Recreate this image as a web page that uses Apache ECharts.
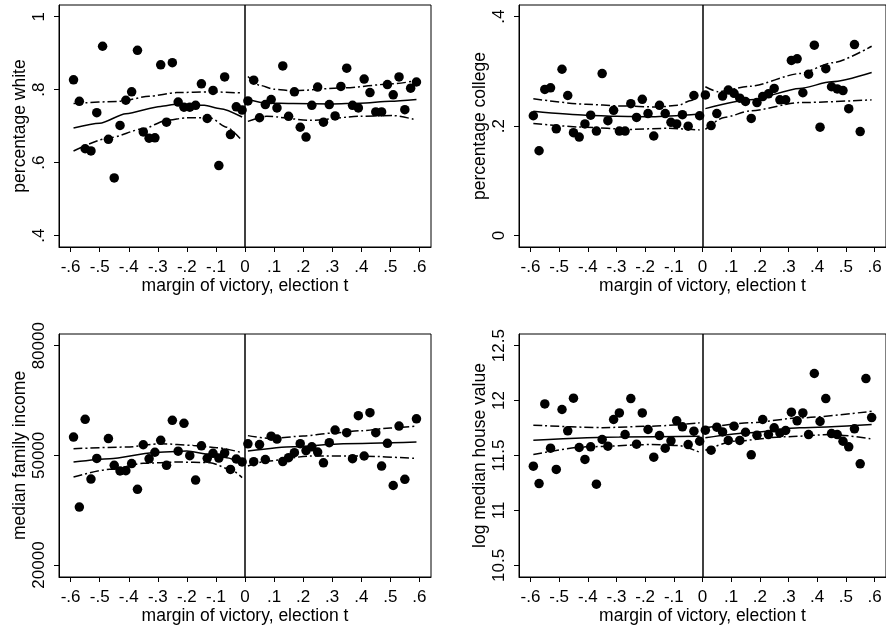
<!DOCTYPE html>
<html><head><meta charset="utf-8">
<script src="https://cdn.jsdelivr.net/npm/echarts@6/dist/echarts.min.js"></script>
<style>html,body{margin:0;padding:0;background:#fff}#c{width:886px;height:631px}</style>
</head><body><div id="c"></div>
<script>
// ---------- tick labels ----------
const xTicks = [-0.6,-0.5,-0.4,-0.3,-0.2,-0.1,0,0.1,0.2,0.3,0.4,0.5,0.6];
const whiteTicks = [0.4,0.6,0.8,1];
const collegeTicks = [0,0.2,0.4];
const incomeTicks = [20000,50000,80000];
const houseTicks = [10.5,11,11.5,12,12.5];

// ---------- bin centres ----------
const binsLeft = [-0.59,-0.57,-0.55,-0.53,-0.51,-0.49,-0.47,-0.45,-0.43,-0.41,-0.39,-0.37,-0.35,-0.33,-0.31,-0.29,-0.27,-0.25,-0.23,-0.21,-0.19,-0.17,-0.15,-0.13,-0.11,-0.09,-0.07,-0.05,-0.03,-0.01];
const binsRight = [0.01,0.03,0.05,0.07,0.09,0.11,0.13,0.15,0.17,0.19,0.21,0.23,0.25,0.27,0.29,0.31,0.33,0.35,0.37,0.39,0.41,0.43,0.45,0.47,0.49,0.51,0.53,0.55,0.57,0.59];
const collegeXRight = [0.01,0.03,0.05,0.07,0.09,0.11,0.13,0.15,0.17,0.19,0.21,0.23,0.25,0.27,0.29,0.31,0.33,0.35,0.37,0.39,0.41,0.43,0.45,0.47,0.49,0.51,0.53,0.55];
const incomeXLeft = [-0.59,-0.57,-0.55,-0.53,-0.51,-0.47,-0.45,-0.43,-0.41,-0.39,-0.37,-0.35,-0.33,-0.31,-0.29,-0.27,-0.25,-0.23,-0.21,-0.19,-0.17,-0.15,-0.13,-0.11,-0.09,-0.07,-0.05,-0.03,-0.01];
const incomeXRight = [0.01,0.03,0.05,0.07,0.09,0.11,0.13,0.15,0.17,0.19,0.21,0.23,0.25,0.27,0.29,0.31,0.35,0.37,0.39,0.41,0.43,0.45,0.47,0.49,0.51,0.53,0.55,0.59];

// ---------- percentage white ----------
const whiteLeft = [0.827,0.768,0.638,0.632,0.737,0.919,0.664,0.558,0.702,0.771,0.794,0.908,0.684,0.667,0.668,0.868,0.711,0.874,0.766,0.752,0.752,0.757,0.816,0.721,0.798,0.592,0.835,0.677,0.753,0.744];
const whiteRight = [0.769,0.826,0.723,0.759,0.773,0.750,0.865,0.727,0.794,0.697,0.670,0.757,0.807,0.711,0.759,0.728,0.809,0.859,0.757,0.750,0.829,0.792,0.739,0.739,0.814,0.786,0.835,0.745,0.804,0.821];
const whiteFitLX = [-0.59,-0.5,-0.41,-0.29,-0.235,-0.14,-0.085,-0.01];
const whiteFitL  = [0.695,0.708,0.734,0.754,0.760,0.757,0.748,0.725];
const whiteHiLX = [-0.59,-0.43,-0.33,-0.235,-0.12,-0.01];
const whiteHiL  = [0.762,0.768,0.782,0.792,0.794,0.791];
const whiteLoLX = [-0.59,-0.465,-0.35,-0.27,-0.2,-0.12,-0.063,-0.01];
const whiteLoL  = [0.632,0.668,0.693,0.716,0.723,0.723,0.697,0.660];
const whiteFitRX = [0.01,0.075,0.166,0.3,0.396,0.5,0.59];
const whiteFitR  = [0.773,0.763,0.762,0.761,0.763,0.768,0.773];
const whiteHiRX = [0.01,0.05,0.1,0.166,0.338,0.51,0.59];
const whiteHiR  = [0.836,0.812,0.801,0.797,0.805,0.816,0.825];
const whiteLoRX = [0.01,0.075,0.224,0.396,0.51,0.59];
const whiteLoR  = [0.713,0.727,0.716,0.727,0.729,0.717];

// ---------- percentage college ----------
const collegeLeft = [0.219,0.155,0.267,0.270,0.195,0.304,0.256,0.188,0.180,0.204,0.220,0.191,0.296,0.210,0.229,0.191,0.191,0.241,0.216,0.249,0.223,0.182,0.238,0.223,0.207,0.204,0.221,0.200,0.256,0.219];
const collegeRight = [0.257,0.201,0.223,0.255,0.266,0.260,0.251,0.245,0.214,0.243,0.254,0.259,0.269,0.248,0.248,0.320,0.323,0.261,0.295,0.348,0.198,0.305,0.272,0.268,0.265,0.232,0.349,0.190];
const collegeFitLX = [-0.59,-0.406,-0.3,-0.177,-0.01];
const collegeFitL  = [0.227,0.220,0.218,0.217,0.222];
const collegeHiLX = [-0.59,-0.406,-0.29,-0.154,-0.085,-0.04,-0.01];
const collegeHiL  = [0.250,0.240,0.237,0.235,0.238,0.247,0.258];
const collegeLoLX = [-0.59,-0.406,-0.257,-0.12,-0.01];
const collegeLoL  = [0.205,0.198,0.194,0.196,0.193];
const collegeFitRX = [0.01,0.167,0.339,0.45,0.59];
const collegeFitR  = [0.232,0.248,0.269,0.281,0.298];
const collegeHiRX = [0.01,0.053,0.167,0.339,0.454,0.59];
const collegeHiR  = [0.272,0.263,0.273,0.296,0.316,0.346];
const collegeLoRX = [0.01,0.076,0.167,0.339,0.59];
const collegeLoR  = [0.194,0.216,0.228,0.243,0.248];

// ---------- median family income ----------
const incomeLeft = [55000,35860,59850,43500,49150,54600,47270,45750,45800,47750,40700,52900,49050,50850,54100,47270,59580,51150,58750,49900,43240,52600,49180,50550,49270,50650,46150,49000,48200];
const incomeRight = [53150,48270,52950,48860,55240,54450,48300,49360,50730,53200,51320,52320,50900,47950,53470,56920,56210,49100,60850,49820,61680,56210,47070,53280,41750,58010,43440,60000];
const incomeFitLX = [-0.59,-0.465,-0.316,-0.2,-0.12,-0.063,-0.01];
const incomeFitL  = [48170,49100,50730,51180,50270,49360,47700];
const incomeHiLX = [-0.59,-0.407,-0.29,-0.178,-0.097,-0.01];
const incomeHiL  = [51830,52270,53200,52730,52100,50730];
const incomeLoLX = [-0.59,-0.465,-0.35,-0.235,-0.12,-0.05,-0.01];
const incomeLoL  = [44070,46170,47810,48170,48000,46170,43900];
const incomeFitRX = [0.01,0.166,0.338,0.59];
const incomeFitR  = [51180,52370,53200,53640];
const incomeHiRX = [0.01,0.09,0.2,0.3,0.4,0.5,0.59];
const incomeHiR  = [55400,54600,55300,56100,56750,57500,58010];
const incomeLoRX = [0.01,0.075,0.224,0.396,0.59];
const incomeLoR  = [47080,48440,49810,49810,49150];

// ---------- log median house value ----------
const houseLeft = [11.403,11.245,11.970,11.567,11.373,11.919,11.725,12.022,11.573,11.464,11.579,11.239,11.646,11.585,11.828,11.888,11.691,12.019,11.603,11.888,11.737,11.485,11.682,11.567,11.634,11.816,11.761,11.600,11.722,11.630];
const houseRight = [11.731,11.549,11.758,11.715,11.637,11.767,11.637,11.712,11.506,11.685,11.828,11.691,11.752,11.706,11.728,11.895,11.816,11.888,11.691,12.247,11.810,12.019,11.700,11.691,11.630,11.579,11.743,11.424,12.201,11.846];
const houseFitLX = [-0.59,-0.29,-0.01];
const houseFitL  = [11.639,11.668,11.676];
const houseHiLX = [-0.59,-0.349,-0.177,-0.01];
const houseHiL  = [11.776,11.754,11.767,11.798];
const houseLoLX = [-0.59,-0.406,-0.177,-0.085,-0.01];
const houseLoL  = [11.509,11.579,11.600,11.591,11.530];
const houseFitRX = [0.01,0.167,0.339,0.59];
const houseFitR  = [11.661,11.707,11.752,11.782];
const houseHiRX = [0.01,0.167,0.339,0.59];
const houseHiR  = [11.752,11.798,11.843,11.903];
const houseLoRX = [0.01,0.11,0.282,0.454,0.59];
const houseLoR  = [11.548,11.630,11.670,11.691,11.652];

// ---------- build ----------
const FONT = 'Liberation Sans, Arial, Helvetica, sans-serif';
const zip = (xs, ys) => xs.map((x, i) => [x, ys[i]]);
const fmt = v => { const s = String(Math.round(v * 1000) / 1000); return s.replace(/^(-?)0\./, '$1.'); };
const DASHDOT = [9, 3, 2, 3];

const panels = [
  {grid:{left:59, top:5, width:372, height:242}, yName:'percentage white', ymin:0.3687, ymax:1.0321, yTicks:whiteTicks,
   xl:binsLeft, yl:whiteLeft, xr:binsRight, yr:whiteRight,
   lines:[[whiteFitLX,whiteFitL,'solid'],[whiteHiLX,whiteHiL,DASHDOT],[whiteLoLX,whiteLoL,DASHDOT],
          [whiteFitRX,whiteFitR,'solid'],[whiteHiRX,whiteHiR,DASHDOT],[whiteLoRX,whiteLoR,DASHDOT]]},
  {grid:{left:519, top:5, width:372, height:242}, yName:'percentage college', ymin:-0.0209, ymax:0.4214, yTicks:collegeTicks,
   xl:binsLeft, yl:collegeLeft, xr:collegeXRight, yr:collegeRight,
   lines:[[collegeFitLX,collegeFitL,'solid'],[collegeHiLX,collegeHiL,DASHDOT],[collegeLoLX,collegeLoL,DASHDOT],
          [collegeFitRX,collegeFitR,'solid'],[collegeHiRX,collegeHiR,DASHDOT],[collegeLoRX,collegeLoR,DASHDOT]]},
  {grid:{left:59, top:334, width:372, height:243}, yName:'median family income', ymin:16720, ymax:83200, yTicks:incomeTicks,
   xl:incomeXLeft, yl:incomeLeft, xr:incomeXRight, yr:incomeRight,
   lines:[[incomeFitLX,incomeFitL,'solid'],[incomeHiLX,incomeHiL,DASHDOT],[incomeLoLX,incomeLoL,DASHDOT],
          [incomeFitRX,incomeFitR,'solid'],[incomeHiRX,incomeHiR,DASHDOT],[incomeLoRX,incomeLoR,DASHDOT]]},
  {grid:{left:519, top:334, width:372, height:243}, yName:'log median house value', ymin:10.394, ymax:12.6065, yTicks:houseTicks,
   xl:binsLeft, yl:houseLeft, xr:binsRight, yr:houseRight,
   lines:[[houseFitLX,houseFitL,'solid'],[houseHiLX,houseHiL,DASHDOT],[houseLoLX,houseLoL,DASHDOT],
          [houseFitRX,houseFitR,'solid'],[houseHiRX,houseHiR,DASHDOT],[houseLoRX,houseLoR,DASHDOT]]}
];

const option = {animation:false, backgroundColor:'#fff', grid:[], xAxis:[], yAxis:[], series:[]};
const axisCommon = {
  axisLine:{show:true, onZero:false, lineStyle:{color:'#000', width:1}},
  splitLine:{show:false}
};
panels.forEach((p, i) => {
  option.grid.push(Object.assign({show:true, borderColor:'#000', borderWidth:1, backgroundColor:'#fff'}, p.grid));
  option.xAxis.push(Object.assign({}, axisCommon, {
    type:'value', gridIndex:i, min:-0.64, max:0.64,
    name:'margin of victory, election t', nameLocation:'middle', nameGap:29,
    nameTextStyle:{color:'#000', fontSize:17.5, fontFamily:FONT},
    axisTick:{show:true, length:5, customValues:xTicks, lineStyle:{color:'#000', width:1}},
    axisLabel:{customValues:xTicks, formatter:fmt, margin:12, color:'#000', fontSize:17, fontFamily:FONT}
  }));
  option.yAxis.push(Object.assign({}, axisCommon, {
    type:'value', gridIndex:i, min:p.ymin, max:p.ymax,
    name:p.yName, nameLocation:'middle', nameGap:30, nameRotate:90,
    nameTextStyle:{color:'#000', fontSize:17.5, fontFamily:FONT},
    axisTick:{show:true, length:5, customValues:p.yTicks, lineStyle:{color:'#000', width:1}},
    axisLabel:{customValues:p.yTicks, formatter:fmt, rotate:90, margin:11, color:'#000', fontSize:17, fontFamily:FONT}
  }));
  option.series.push({
    type:'scatter', xAxisIndex:i, yAxisIndex:i, symbol:'circle', symbolSize:9.5,
    itemStyle:{color:'#000', opacity:1}, data: zip(p.xl, p.yl).concat(zip(p.xr, p.yr)), silent:true, z:3,
    markLine:{silent:true, symbol:['none','none'], label:{show:false},
      lineStyle:{color:'#000', width:1.5, type:'solid', opacity:1}, data:[{xAxis:0}]}
  });
  p.lines.forEach(l => {
    option.series.push({
      type:'line', xAxisIndex:i, yAxisIndex:i, data:zip(l[0], l[1]), showSymbol:false, symbol:'none',
      smooth:0.25, smoothMonotone:'x', silent:true, z:4,
      lineStyle:{color:'#000', width:1.5, type:l[2]}
    });
  });
});
const chart = echarts.init(document.getElementById('c'), null, {renderer:'canvas'});
chart.setOption(option);
</script></body></html>
